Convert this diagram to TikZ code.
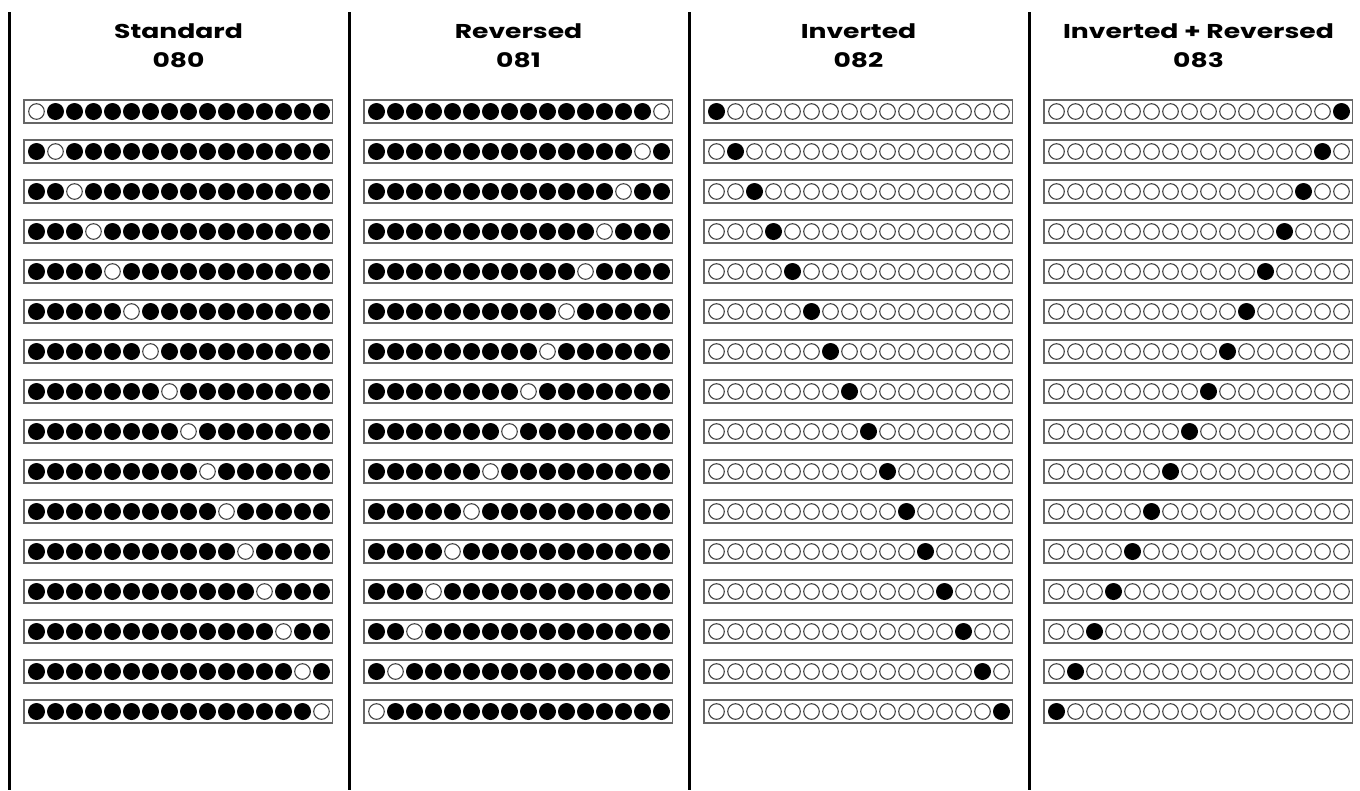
\documentclass[tikz,border=0pt]{standalone}
\usepackage{fontspec}
\setmainfont{Poppins}
\newfontfamily\headfont[FakeStretch=1.33]{Poppins}
\usepackage{tikz}

\tikzset{
  divider/.style={line width=1.9pt, black},
  strip/.style={draw=black!60, line width=0.9pt, fill=white},
  beadoff/.style={draw=black!75, line width=0.8pt, fill=white},
  beadon/.style={fill=black},
  heading/.style={font=\headfont\bfseries\fontsize{15}{17}\selectfont, anchor=base}
}

\begin{document}
\begin{tikzpicture}[x=0.75pt, y=-0.75pt]
  \useasboundingbox (0,0) rectangle (1360,790);

  % -- four columns: 0 standard, 1 reversed, 2 inverted, 3 both ----------
  \foreach \col/\name/\code in {0/Standard/080, 1/Reversed/081,
                                2/Inverted/082, 3/{Inverted + Reversed}/083} {
    \begin{scope}[shift={(340*\col,0)}]
      \draw[divider] (9.5,12) -- (9.5,790);
      \node[heading] (title\col) at (178.5,38) {\name};
      \node[heading] (number\col) at (178.5,67.5) {\code};

      % one strip per row, sixteen beads each
      \foreach \r in {0,...,15} {
        \draw[strip] (24,100+40*\r) rectangle (332.5,123+40*\r);
        \pgfmathtruncatemacro\tgt{mod(\col,2)==1 ? 15-\r : \r}
        \foreach \c in {0,...,15} {
          \pgfmathtruncatemacro\full{(\c==\tgt) == (\col>1)}
          \ifnum\full=1
            \fill[beadon] (36.5+19*\c,111.5+40*\r) circle (8.5);
          \else
            \draw[beadoff] (36.5+19*\c,111.5+40*\r) circle (7.8);
          \fi
        }
      }
    \end{scope}
  }

\end{tikzpicture}
\end{document}
